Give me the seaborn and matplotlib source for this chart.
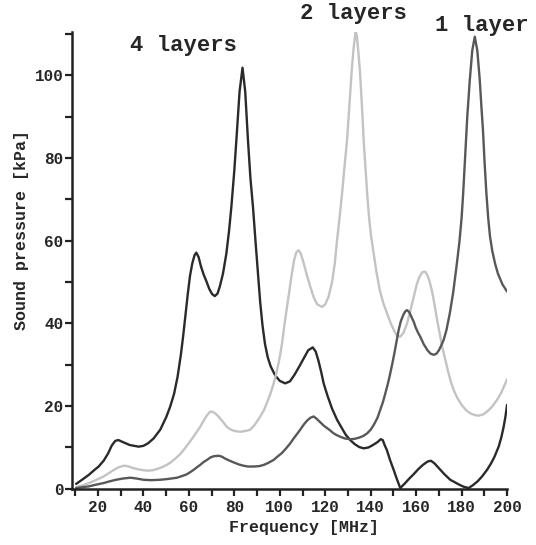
import pandas as pd
import seaborn as sns
import matplotlib.pyplot as plt
from matplotlib.ticker import MultipleLocator

# 4 layers (dark)
freq_4 = [10.4, 13, 16, 18.5, 20.3, 22.5, 24.5, 26, 27.6, 29, 31, 34, 37.9, 40, 42, 44.5,
          47.4, 50, 51.8, 53.5, 55, 56.5, 57.5, 58.5, 59.5, 60.5, 61.5, 62.5, 63.3, 64.3,
          65.3, 66.5, 67.7, 69, 70.2, 71.4, 72.6, 73.6, 75, 76.5, 77.7, 78.7, 80, 80.9,
          82.3, 83.6, 84.8, 86, 87.1, 88.2, 89.3, 90.4, 91.4, 92.4, 93.5, 94.7, 96, 98,
          100, 102.4, 104.5, 106.5, 108.5, 110.5, 112.5, 114.5, 115.8, 117, 118.2, 119.3,
          121, 123, 125.2, 127.5, 129, 131, 133, 135, 136.9, 139, 141, 143, 144.4, 145.3,
          146.2, 147.1, 148.5, 150.1, 151.5, 153, 155, 157, 159, 161, 163, 165, 166.5,
          168, 170, 172.5, 175, 177, 179, 181, 183.1, 185, 187, 189, 191.2, 193, 194.5,
          196.3, 197.5, 198.5, 199.3, 200]
press_4 = [1.2, 2.2, 3.4, 4.6, 5.4, 6.8, 8.6, 10.4, 11.6, 11.8, 11.3, 10.6, 10.2, 10.4, 11.0, 12.2,
           14.3, 17.3, 19.9, 23, 27, 32.5, 37, 42, 47, 51.5, 54.5, 56.5, 57.1, 56,
           53.8, 51.8, 50.2, 48.3, 47.1, 46.6, 47.2, 48.9, 52, 56.9, 62.5, 68.2, 77, 84.3,
           96, 101.8, 96, 84.3, 75, 68.2, 60, 52.1, 45, 39.5, 35, 31.8, 29.6, 27.4,
           26.1, 25.5, 26, 27.6, 29.5, 31.5, 33.5, 34.2, 33.2, 31, 28.3, 25.5,
           22.5, 19.4, 16.7, 14.5, 13.1, 11.8, 10.8, 10.1, 9.8, 10, 10.6, 11.3, 12.0, 11.8,
           10.5, 9.4, 7, 4.6, 2.4, 0.2, 1.3, 2.5, 3.6, 4.8, 5.8, 6.6, 6.8,
           6.2, 5, 3.5, 2.2, 1.6, 1.0, 0.5, 0.2, 0.9, 1.8, 3, 4.6, 6.2, 7.8,
           10.2, 12.5, 15, 17.5, 20.3]

# 2 layers (light grey)
freq_2 = [10.4, 13, 16, 19, 22.5, 25, 27, 29, 31.3, 33, 35, 37.1, 40, 42.3, 44, 46, 48,
          50.3, 52, 54, 56, 57.7, 59.5, 61.5, 63, 65, 66.5, 68, 69.2, 70.1, 71.5, 73, 75,
          76.7, 78.5, 80, 82.6, 85, 87, 89, 91.4, 93, 94.5, 96, 97.3, 98.5, 99.5, 100.3,
          101, 102, 103.2, 104.3, 105.3, 106.3, 107.3, 108.3, 109.3, 110.5, 112, 113.4,
          115, 116.5, 118.6, 120, 121.5, 123, 124.2, 125.2, 126.3, 127.5, 128.5, 129.6,
          130.3, 131, 131.7, 132.4, 133, 133.4, 133.9, 134.5, 135.2, 135.8, 136.4, 136.9,
          137.7, 138.5, 139.3, 140.2, 141.3, 142.5, 144, 145.5, 147.2, 149, 150.5, 151.6,
          153, 154.5, 156, 157.5, 158.9, 160.3, 161.5, 162.8, 164, 165, 166, 167, 167.7,
          168.6, 169.5, 170.5, 171.4, 172.8, 174, 175.2, 176.5, 178, 180, 182, 184, 186,
          187.5, 189.5, 191, 193, 195.6, 197.5, 199, 200]
press_2 = [0.4, 0.8, 1.4, 2.1, 3.0, 3.9, 4.6, 5.2, 5.6, 5.5, 5.1, 4.8, 4.5, 4.4, 4.5, 4.8, 5.2,
           5.8, 6.4, 7.3, 8.3, 9.4, 10.7, 12.2, 13.4, 15, 16.5, 17.8, 18.6, 18.7, 18.3, 17.5, 16.2,
           15, 14.3, 14, 13.8, 14, 14.3, 15.5, 17.5, 19, 21, 23.2, 25.5, 28, 30.5, 32.8,
           35.2, 39.5, 44, 48, 52, 55.3, 57.2, 57.7, 56.8, 54.6, 51.5, 48.9,
           46.2, 44.6, 44, 44.6, 46.5, 50, 54.5, 60.1, 65.5, 72, 78, 84.3,
           90, 96, 101.5, 106, 109, 110.7, 109.5, 106, 101.5, 96, 90, 84.3,
           77.5, 71, 65.5, 61, 56.9, 52.5, 48, 45, 42.4, 39.8, 38, 37,
           36.8, 37.8, 40, 43.2, 46.4, 49.5, 51.3, 52.4, 52.5, 51.6, 50, 47.7, 45.7,
           42.9, 40, 37.2, 34.4, 31.3, 28.5, 26, 23.9, 22.1, 20.3, 19, 18.2, 17.8,
           17.7, 18, 18.6, 19.6, 21.5, 23.3, 25.2, 26.5]

# 1 layer (medium grey)
freq_1 = [10.4, 13, 16, 19, 22.5, 25, 28, 31, 34.2, 37, 40, 43.5, 47.4, 51, 54.8, 57, 59,
          60.5, 62.1, 63.5, 65, 66.5, 68, 69.5, 71, 73.1, 74.5, 76, 78, 79.7, 82, 84, 86,
          88.5, 91, 93, 95, 97.3, 99, 101, 102.8, 104.6, 106, 107.5, 109, 110.5, 112,
          113.5, 114.9, 116.3, 118, 119.5, 120.8, 122, 123.5, 125, 126.6, 128.5, 131, 133,
          135, 136.8, 138.4, 140, 141.5, 143, 144.2, 145.4, 146.5, 147.6, 148.6, 149.6,
          150.5, 151.4, 152.3, 153.3, 154.3, 155.2, 156, 157, 158, 159, 159.8, 160.8,
          161.8, 163.3, 165, 166.3, 167.7, 169, 170, 171, 172.1, 173.3, 174.8, 176.3,
          177.7, 179, 180, 180.7, 181.4, 182.5, 183.6, 184.7, 185.8, 186.9, 188, 188.7,
          189.4, 190.1, 190.9, 191.7, 192.5, 193.5, 194.8, 196, 198, 200]
press_1 = [0.2, 0.4, 0.6, 1.0, 1.4, 1.8, 2.2, 2.5, 2.7, 2.5, 2.2, 2.1, 2.2, 2.4, 2.7, 3.1, 3.5,
           4.0, 4.6, 5.2, 5.8, 6.5, 7.0, 7.6, 7.9, 8.0, 7.8, 7.3, 6.8, 6.4, 5.9, 5.6, 5.4,
           5.4, 5.5, 5.8, 6.3, 7.0, 7.8, 8.7, 9.8, 11.0, 12.1, 13.2, 14.3, 15.5, 16.5,
           17.2, 17.5, 16.9, 16.0, 15.2, 14.7, 14.2, 13.5, 13, 12.6, 12.2, 12.0, 12.1,
           12.4, 12.8, 13.4, 14.3, 15.6, 17.2, 19.1, 21, 23.2, 25.5, 27.9, 30.5,
           33, 35.7, 38.4, 40.6, 42, 42.9, 43.2, 42.7, 41.5, 40.3, 39, 37.8,
           36.8, 35, 33.5, 32.7, 32.4, 32.7, 33.5, 34.6, 36, 38.3, 42.4, 47.5,
           53.5, 59.5, 65.5, 71.5, 78.7, 90, 98.8, 106, 109.3, 106, 98.8, 92.5,
           86.7, 79, 71.5, 65.5, 61, 57.5, 54.3, 52, 49.4, 47.7]

df = pd.concat([
    pd.DataFrame({'freq': freq_4, 'pressure': press_4, 'layers': '4 layers'}),
    pd.DataFrame({'freq': freq_2, 'pressure': press_2, 'layers': '2 layers'}),
    pd.DataFrame({'freq': freq_1, 'pressure': press_1, 'layers': '1 layer'}),
])
colors = {'4 layers': '#2a2a2a', '2 layers': '#c3c3c3', '1 layer': '#585858'}

sns.set_style('ticks')
plt.rcParams['font.family'] = ['Liberation Mono', 'DejaVu Sans Mono']
plt.rcParams['font.weight'] = 'bold'

fig = plt.figure(figsize=(5.36, 5.45), dpi=100)
ax = fig.add_axes([0.134, 0.103, 0.812, 0.838])
sns.lineplot(data=df, x='freq', y='pressure', hue='layers', palette=colors,
             estimator=None, linewidth=1.7, legend=False, ax=ax,
             solid_joinstyle='round', solid_capstyle='round')

ax.set_xlim(8.5, 200)
ax.set_ylim(0, 110.4)
ax.xaxis.set_major_locator(MultipleLocator(20))
ax.xaxis.set_minor_locator(MultipleLocator(10))
ax.yaxis.set_major_locator(MultipleLocator(20))
ax.yaxis.set_minor_locator(MultipleLocator(10))
ax.tick_params(which='both', direction='out', length=5, width=1.6, color='#222222',
               labelsize=11.5)
ax.tick_params(axis='x', pad=3)
ax.tick_params(axis='y', pad=1)
for s in ['left', 'bottom']:
    ax.spines[s].set_linewidth(1.8)
    ax.spines[s].set_color('#222222')
sns.despine(ax=ax)

ax.set_xlabel('Frequency [MHz]', fontsize=12, fontweight='bold')
ax.set_ylabel('Sound pressure [kPa]', fontsize=12, fontweight='bold')
ax.xaxis.set_label_coords(0.533, -0.068)
ax.yaxis.set_label_coords(-0.099, 0.567)

fig.text(184 / 536, 1 - 45 / 545, '4 layers', fontsize=16, fontweight='bold', ha='center', va='center')
fig.text(353 / 536, 1 - 14 / 545, '2 layers', fontsize=16, fontweight='bold', ha='center', va='center')
fig.text(482 / 536, 1 - 25 / 545, '1 layer', fontsize=16, fontweight='bold', ha='center', va='center')

fig.savefig('out.png', dpi=100)
